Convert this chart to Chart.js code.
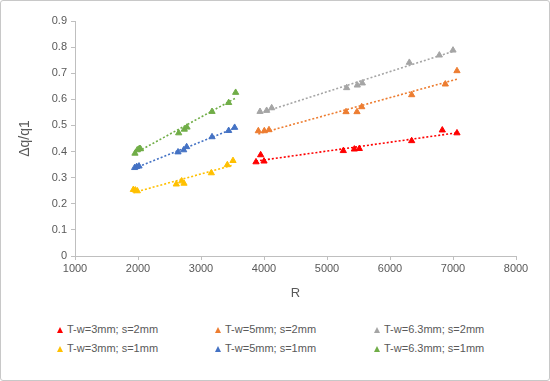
<!DOCTYPE html>
<html>
<head>
<meta charset="utf-8">
<script src="https://cdn.jsdelivr.net/npm/chart.js@4/dist/chart.umd.min.js"></script>
<style>
	body { margin: 0; background: #fff; }
	#wrap { position: relative; width: 548px; height: 379px; border: 1px solid #c8c8c8; border-radius: 3px; font-family: "Liberation Sans", Arial, sans-serif; }
	#chartBox { position: absolute; left: -1px; top: -1px; width: 550px; height: 305px; }
	#legend { position: absolute; left: 0; top: 321px; width: 548px; }
	.item { position: absolute; font-size: 11px; color: #595959; white-space: nowrap; line-height: 14px; }
	.tri { display: inline-block; width: 0; height: 0; border-left: 3px solid transparent; border-right: 3px solid transparent; border-bottom: 6px solid; margin-right: 4px; vertical-align: 0px; }
</style>
</head>
<body>
<div id="wrap">
	<div id="chartBox"><canvas id="myChart"></canvas></div>
	<div id="legend"></div>
</div>
<script>
const labels = ['T-w=3mm; s=2mm', 'T-w=5mm; s=2mm', 'T-w=6.3mm; s=2mm', 'T-w=3mm; s=1mm', 'T-w=5mm; s=1mm', 'T-w=6.3mm; s=1mm'];
const colors = ['#ff0000', '#ed7d31', '#a5a5a5', '#ffc000', '#4472c4', '#70ad47'];

// R values and dq/q1 values per series
const r_3mm_2 = [3873, 3947, 4000, 5259, 5434, 5513, 6344, 6830, 7063];
const v_3mm_2 = [0.360, 0.387, 0.363, 0.403, 0.409, 0.411, 0.441, 0.482, 0.471];
const r_5mm_2 = [3910, 4005, 4079, 5302, 5476, 5551, 6344, 6878, 7063];
const v_5mm_2 = [0.479, 0.479, 0.483, 0.552, 0.552, 0.571, 0.617, 0.658, 0.709];
const r_63mm_2 = [3937, 4042, 4122, 5312, 5481, 5561, 6307, 6783, 7000];
const v_63mm_2 = [0.553, 0.557, 0.567, 0.644, 0.654, 0.662, 0.741, 0.769, 0.788];
const r_3mm_1 = [1926, 1958, 1989, 2608, 2693, 2730, 3164, 3418, 3508];
const v_3mm_1 = [0.254, 0.252, 0.249, 0.275, 0.287, 0.278, 0.318, 0.349, 0.365];
const r_5mm_1 = [1947, 1979, 2016, 2635, 2725, 2772, 3175, 3439, 3534];
const v_5mm_1 = [0.338, 0.342, 0.344, 0.398, 0.406, 0.418, 0.456, 0.480, 0.492];
const r_63mm_1 = [1952, 1989, 2021, 2040, 2646, 2735, 2778, 3175, 3439, 3550];
const v_63mm_1 = [0.393, 0.406, 0.411, 0.410, 0.471, 0.485, 0.493, 0.553, 0.587, 0.626];

const xTicks = [1000, 2000, 3000, 4000, 5000, 6000, 7000, 8000];
const yTicks = [0, 0.1, 0.2, 0.3, 0.4, 0.5, 0.6, 0.7, 0.8, 0.9];

const seriesR = [r_3mm_2, r_5mm_2, r_63mm_2, r_3mm_1, r_5mm_1, r_63mm_1];
const seriesV = [v_3mm_2, v_5mm_2, v_63mm_2, v_3mm_1, v_5mm_1, v_63mm_1];

function toPoints(xs, ys){
	return xs.map((x, i) => ({x: x, y: ys[i]}))
}

// linear trendline over the data range, like Excel
function trend(xs, ys){
	const n = xs.length;
	const mx = xs.reduce((a, b) => a + b, 0) / n;
	const my = ys.reduce((a, b) => a + b, 0) / n;
	let sxy = 0, sxx = 0;
	for (let i = 0; i < n; i++) {
		sxy += (xs[i] - mx) * (ys[i] - my);
		sxx += (xs[i] - mx) * (xs[i] - mx);
	}
	const b = sxy / sxx;
	const a = my - b * mx;
	const x0 = Math.min(...xs), x1 = Math.max(...xs);
	return [{x: x0, y: a + b * x0}, {x: x1, y: a + b * x1}]
}

const datasets = [];
labels.forEach((lab, i) => {
	datasets.push({
		type: 'line',
		label: lab + ' trend',
		data: trend(seriesR[i], seriesV[i]),
		borderColor: colors[i],
		borderWidth: 1.6,
		borderDash: [2, 2],
		pointRadius: 0,
		fill: false,
		order: 2
	});
});
labels.forEach((lab, i) => {
	datasets.push({
		type: 'scatter',
		label: lab,
		data: toPoints(seriesR[i], seriesV[i]),
		backgroundColor: colors[i],
		borderColor: colors[i],
		pointStyle: 'triangle',
		pointRadius: 3.6,
		borderWidth: 1,
		order: 1
	});
});

const axisColor = '#bfbfbf';
const tickFont = {family: '"Liberation Sans", Arial, sans-serif', size: 11};

const ctx = document.getElementById('myChart').getContext('2d');
const myChart = new Chart(ctx, {
	data: {datasets: datasets},
	options: {
		responsive: true,
		maintainAspectRatio: false,
		animation: false,
		layout: {padding: {top: 21, right: 34, left: 0, bottom: 0}},
		plugins: {legend: {display: false}, tooltip: {enabled: false}},
		scales: {
			x: {
				type: 'linear',
				min: 1000,
				max: 8000,
				afterBuildTicks: (s) => { s.ticks = xTicks.map(v => ({value: v})); },
				ticks: {color: '#595959', font: tickFont, padding: 2, callback: (v) => String(v)},
				grid: {drawOnChartArea: false, drawTicks: true, tickLength: 4, color: axisColor},
				border: {color: axisColor},
				title: {display: true, text: 'R', color: '#595959', font: {family: '"Liberation Sans", Arial, sans-serif', size: 13}, padding: {top: 10, bottom: 4}},
				afterFit: (s) => { s.height = 49; }
			},
			y: {
				type: 'linear',
				min: 0,
				max: 0.9,
				afterBuildTicks: (s) => { s.ticks = yTicks.map(v => ({value: v})); },
				ticks: {color: '#595959', font: tickFont, padding: 4, callback: (v) => String(Math.round(v * 10) / 10)},
				grid: {drawOnChartArea: false, drawTicks: true, tickLength: 4, color: axisColor},
				border: {color: axisColor},
				title: {display: true, text: 'Δq/q1', color: '#595959', font: {family: '"Liberation Sans", Arial, sans-serif', size: 14}, padding: {top: 17, bottom: 0}},
				afterFit: (s) => { s.width = 75; }
			}
		}
	}
});

// legend: 3 columns, 2 rows
const legendDiv = document.getElementById('legend');
const colX = [56, 214, 373];
labels.forEach((lab, i) => {
	const el = document.createElement('div');
	el.className = 'item';
	el.style.left = colX[i % 3] + 'px';
	el.style.top = (Math.floor(i / 3) * 19) + 'px';
	el.innerHTML = '<span class="tri" style="border-bottom-color:' + colors[i] + '"></span>' + lab;
	legendDiv.appendChild(el);
});
</script>
</body>
</html>
